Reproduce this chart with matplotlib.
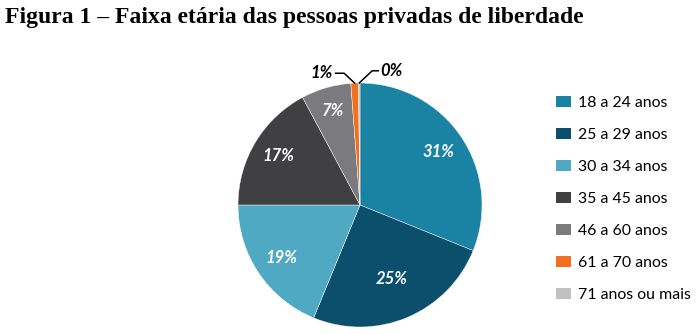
import numpy as np
import matplotlib
matplotlib.use("Agg")
import matplotlib.pyplot as plt
from matplotlib.patches import Patch

categories = ["18 a 24 anos", "25 a 29 anos", "30 a 34 anos", "35 a 45 anos",
              "46 a 60 anos", "61 a 70 anos", "71 anos ou mais"]
values = [31.1, 25.1, 18.8, 17.2, 6.6, 1.0, 0.2]
colors = ["#1a82a3", "#0b4f6c", "#4fa9c3", "#404043", "#7b7b7f", "#f07022", "#c0c0c0"]
title = "Figura 1 – Faixa etária das pessoas privadas de liberdade"

W, H = 699, 334
fig = plt.figure(figsize=(W / 100, H / 100), dpi=100)

cx, cy, r = 360, 205, 122
ax = fig.add_axes([(cx - r) / W, (H - cy - r) / H, 2 * r / W, 2 * r / H])
wedges, _ = ax.pie(values, colors=colors, startangle=90, counterclock=False,
                   radius=1, wedgeprops=dict(edgecolor="white", linewidth=0.3))
ax.set_xlim(-1, 1)
ax.set_ylim(-1, 1)
ax.set_aspect("equal")
ax.axis("off")
for w in wedges:
    w.set_clip_on(False)

total = sum(values)
dists = [0.77, 0.66, 0.78, 0.78, 0.80]
cum = 0
angles = []
for v in values:
    mid = 90 - (cum + v / 2) / total * 360
    angles.append(np.deg2rad(mid))
    cum += v

lab_font = dict(family=["Lato", "DejaVu Sans"], weight="bold", style="italic", fontsize=12)
for i in range(5):
    a = angles[i]
    d = dists[i]
    ax.text(d * np.cos(a), d * np.sin(a), f"{round(values[i])}%", color="white",
            ha="center", va="center", **lab_font)

# outside labels with leader lines
for i, (tx, ty, side) in zip([5, 6], [(-0.22, 1.08, "right"), (0.17, 1.1, "left")]):
    a = angles[i]
    px, py = np.cos(a), np.sin(a)
    ax.text(tx, ty, f"{round(values[i])}%", color="black",
            ha=side, va="center", **lab_font)
    if side == "right":
        kx = tx + 0.09
        ax.plot([tx + 0.02, kx, px], [ty, ty, py], color="black", lw=1.1, clip_on=False)
    else:
        kx = tx - 0.07
        ax.plot([tx - 0.02, kx, px], [ty, ty, py], color="black", lw=1.1, clip_on=False)

handles = [Patch(facecolor=c, edgecolor="none") for c in colors]
fig.legend(handles, categories, loc="upper left", bbox_to_anchor=(556 / W, 1 - 96 / H),
           frameon=False, prop=dict(family=["Lato", "DejaVu Sans"], size=11.4),
           handlelength=0.95, handleheight=0.65, handletextpad=0.45, labelspacing=1.14,
           borderaxespad=0, borderpad=0)

fig.text(5 / W, 1 - 17 / H, title, ha="left", va="center",
         fontfamily="Liberation Serif", fontweight="bold", fontsize=17)

fig.savefig("out.png", dpi=100)
